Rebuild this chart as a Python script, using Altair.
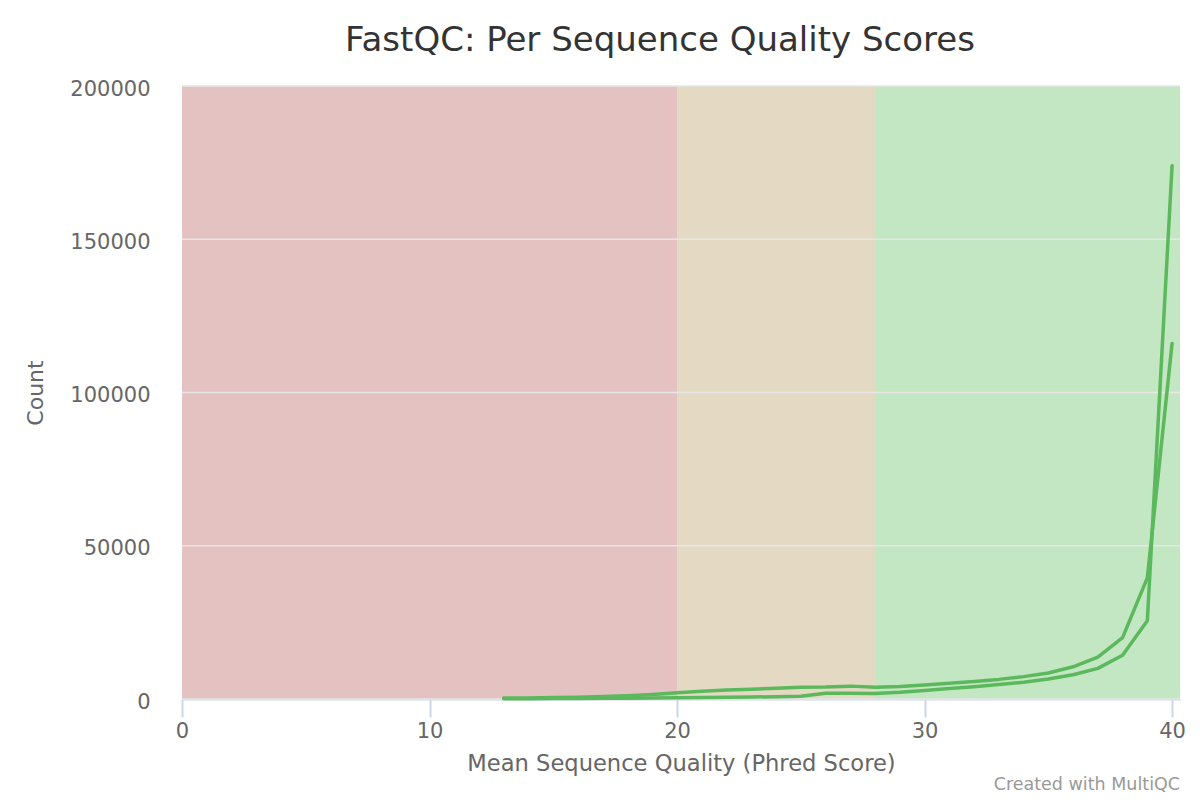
import altair as alt
import pandas as pd

# Data
quality = list(range(13, 41))
sample_a = [300, 350, 450, 600, 800, 1100, 1500, 2000,
            2500, 2900, 3200, 3500, 3800, 3900, 4200, 3800,
            4100, 4600, 5100, 5700, 6400, 7300, 8500, 10500,
            13700, 20000, 39500, 116000]
sample_b = [100, 120, 150, 180, 220, 270, 330, 400,
            480, 560, 650, 750, 900, 1900, 1900, 1800,
            2200, 2800, 3400, 4000, 4700, 5500, 6500, 7900,
            10000, 14300, 25500, 174000]

band_names = ["fail", "warn", "pass"]
band_start = [0, 20, 28]
band_end = [20, 28, 40.32]

x_ticks = [0, 10, 20, 30, 40]
y_ticks = [0, 50000, 100000, 150000, 200000]

W, H = 998, 613
FONT = "DejaVu Sans"

lines_df = pd.DataFrame({
    "quality": quality * 2,
    "count": sample_a + sample_b,
    "sample": ["A"] * len(quality) + ["B"] * len(quality),
})
bands_df = pd.DataFrame({"band": band_names, "start": band_start, "end": band_end})
grid_df = pd.DataFrame({"v": y_ticks})

xscale = alt.Scale(domain=[0, 40.32], nice=False, zero=False)
yscale = alt.Scale(domain=[0, 200000], nice=False)

x_axis = alt.Axis(title="Mean Sequence Quality (Phred Score)", values=x_ticks,
                  grid=False, domainColor="#ccd6eb", domainWidth=2,
                  tickColor="#ccd6eb", tickSize=18, tickWidth=2,
                  labelFont=FONT, labelFontSize=21, labelColor="#666666",
                  labelPadding=3, labelFlush=False, titleFont=FONT, titleFontSize=22.6,
                  titleFontWeight="normal", titleColor="#666666", titlePadding=11)
y_axis = alt.Axis(title="Count", values=y_ticks, format="d", grid=False,
                  domain=False, ticks=False,
                  labelFont=FONT, labelFontSize=21, labelColor="#666666",
                  labelPadding=32, labelBaseline="middle", labelOffset=3,
                  titleFont=FONT, titleFontSize=22, titleFontWeight="normal",
                  titleColor="#666666", titlePadding=22)

bands = alt.Chart(bands_df).mark_rect(opacity=1).encode(
    x=alt.X("start:Q", scale=xscale, axis=x_axis),
    x2="end:Q",
    y=alt.value(0),
    y2=alt.value(H),
    color=alt.Color("band:N", legend=None,
                    scale=alt.Scale(domain=band_names,
                                    range=["#e4c2c2", "#e4dac4", "#c3e7c3"])),
)

grid = alt.Chart(grid_df).mark_rule(color="#e6e6e6", strokeWidth=1.5).encode(
    y=alt.Y("v:Q", scale=yscale, axis=y_axis),
)

lines = alt.Chart(lines_df).mark_line(color="#5cb85c", strokeWidth=3.5, strokeJoin="round", strokeCap="round").encode(
    x=alt.X("quality:Q", scale=xscale, axis=x_axis),
    y=alt.Y("count:Q", scale=yscale, axis=y_axis),
    detail="sample:N",
)

credit = alt.Chart(pd.DataFrame({"t": ["Created with MultiQC"]})).mark_text(
    align="right", baseline="middle", font=FONT, fontSize=17.5, color="#999999"
).encode(text="t:N", x=alt.value(W), y=alt.value(H + 86))

chart = alt.layer(bands, grid, lines, credit).properties(
    width=W, height=H,
    title=alt.TitleParams("FastQC: Per Sequence Quality Scores", font=FONT, fontSize=34,
                          fontWeight="normal", color="#333333", anchor="middle",
                          dx=-21, offset=20),
    autosize=alt.AutoSizeParams(type="none"),
    padding={"left": 174, "top": 78, "right": 12, "bottom": 100},
).configure_view(stroke=None)

chart.save("out.html", embed_options={"renderer": "svg", "actions": False})
